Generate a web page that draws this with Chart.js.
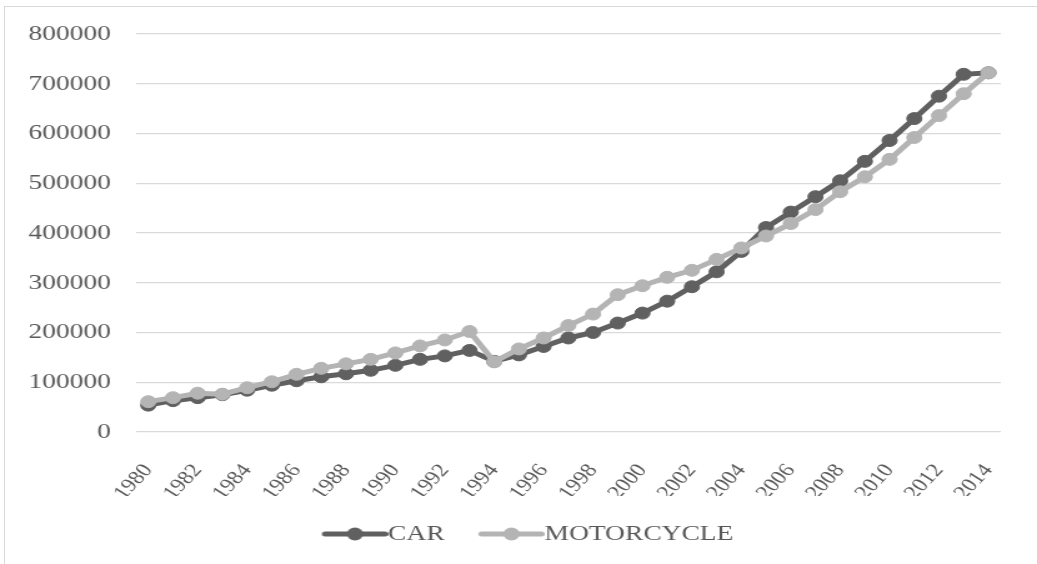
<!DOCTYPE html>
<html>
<head>
<meta charset="utf-8">
<script src="https://cdn.jsdelivr.net/npm/chart.js@4.4.1/dist/chart.umd.min.js"></script>
<style>
  html, body { margin: 0; padding: 0; background: #fff; overflow: hidden; }
  body { width: 1037px; height: 564px; position: relative; }
  #frame { position: absolute; left: 4px; top: 6px; width: 1100px; height: 700px; border: 1px solid #d9d9d9; box-sizing: border-box; }
  /* the source figure is stretched sideways, so draw narrow and widen */
  #stretch { position: absolute; left: 0; top: 0; width: 830px; height: 564px; transform: scaleX(1.2494); transform-origin: 0 0; }
  #title { position: absolute; left: 74px; top: -20px; line-height: 20px; font-size: 18px; font-family: "Liberation Serif", "Times New Roman", serif; color: #000; white-space: nowrap; }
  #box { position: absolute; left: 0; top: 0; width: 830px; height: 564px; }
</style>
</head>
<body>
<div id="frame"></div>
<div id="stretch">
  <div id="title"><b>Figure 1.</b> Registered Vehicles in Total (units)</div>
  <div id="box"><canvas id="vehicleChart"></canvas></div>
</div>
<script>
const years = ['1980', '1981', '1982', '1983', '1984', '1985', '1986', '1987', '1988', '1989',
    '1990', '1991', '1992', '1993', '1994', '1995', '1996', '1997', '1998', '1999',
    '2000', '2001', '2002', '2003', '2004', '2005', '2006', '2007', '2008', '2009',
    '2010', '2011', '2012', '2013', '2014'];

const carValues = [54000, 63000, 69000, 75000, 84000, 94000, 103000, 111000, 117000, 124000,
    134000, 146000, 153000, 164000, 142000, 155000, 172000, 189000, 200000, 219000,
    239000, 263000, 292000, 322000, 363000, 411000, 442000, 473000, 505000, 544000,
    586000, 630000, 675000, 719000, 722000];

const motorcycleValues = [61000, 69000, 78000, 76000, 89000, 101000, 116000, 128000, 137000, 146000,
    159000, 173000, 185000, 202000, 141000, 167000, 189000, 214000, 237000, 276000,
    294000, 311000, 325000, 347000, 370000, 394000, 419000, 447000, 483000, 513000,
    548000, 592000, 636000, 680000, 722000];

const yMax = 800000;
const yStep = 100000;

const FONT = '"Liberation Serif", "Times New Roman", serif';
const TEXT_COLOR = '#595959';
const CAR_COLOR = '#606060';
const MOTO_COLOR = '#b4b4b4';

// legend mark: line with a dot, drawn so the line runs right up to the text
function legendMark(color) {
    const c = document.createElement('canvas');
    c.width = 64;
    c.height = 16;
    const g = c.getContext('2d');
    g.strokeStyle = color;
    g.lineWidth = 5;
    g.lineCap = 'round';
    g.beginPath();
    g.moveTo(13.5, 8);
    g.lineTo(61.5, 8);
    g.stroke();
    g.fillStyle = color;
    g.beginPath();
    g.arc(37.5, 8, 6.5, 0, Math.PI * 2);
    g.fill();
    return c;
}

const marks = [legendMark(CAR_COLOR), legendMark(MOTO_COLOR)];

function seriesStyle(color) {
    return {
        borderColor: color,
        backgroundColor: color,
        pointBackgroundColor: color,
        pointBorderColor: color,
        borderWidth: 5,
        pointRadius: 6,
        pointBorderWidth: 1,
        tension: 0,
        fill: false,
    };
}

// legend in the source sits a little right of the canvas centre
const legendNudge = {
    id: 'legendNudge',
    afterLayout(chart) {
        chart.legend.left += 43.6;
    },
};

new Chart(document.getElementById('vehicleChart'), {
    type: 'line',
    data: {
        labels: years,
        datasets: [
            { label: 'CAR', data: carValues, order: 1, ...seriesStyle(CAR_COLOR) },
            { label: 'MOTORCYCLE', data: motorcycleValues, order: 0, ...seriesStyle(MOTO_COLOR) },
        ],
    },
    plugins: [legendNudge],
    options: {
        responsive: true,
        maintainAspectRatio: false,
        animation: false,
        layout: {
            padding: { left: 0, right: 29, top: 34, bottom: 9 },
        },
        plugins: {
            tooltip: { enabled: false },
            legend: {
                position: 'bottom',
                labels: {
                    usePointStyle: true,
                    pointStyleWidth: 42,
                    boxHeight: 22,
                    padding: 27,
                    color: TEXT_COLOR,
                    font: { family: FONT, size: 22 },
                    generateLabels: (chart) => {
                        const items = Chart.defaults.plugins.legend.labels.generateLabels(chart);
                        items.sort((a, b) => a.datasetIndex - b.datasetIndex);
                        items.forEach(item => {
                            item.pointStyle = marks[item.datasetIndex];
                            item.fontColor = TEXT_COLOR;
                        });
                        return items;
                    },
                },
            },
        },
        scales: {
            x: {
                offset: true,
                grid: { display: false },
                border: { display: false },
                ticks: {
                    autoSkip: false,
                    minRotation: 52,
                    maxRotation: 52,
                    padding: 20,
                    color: TEXT_COLOR,
                    font: { family: FONT, size: 19 },
                    callback: (value, index) => (index % 2 === 0 ? years[index] : ''),
                },
                afterFit: (scale) => { scale.height = 64; },
            },
            y: {
                min: 0,
                max: yMax,
                grid: { color: '#d9d9d9', lineWidth: 1.3, drawTicks: false },
                border: { display: false },
                ticks: {
                    stepSize: yStep,
                    padding: 20,
                    color: TEXT_COLOR,
                    font: { family: FONT, size: 22 },
                    callback: (value) => String(value),
                },
                afterFit: (scale) => { scale.width = 108.8; },
            },
        },
    },
});
</script>
</body>
</html>
